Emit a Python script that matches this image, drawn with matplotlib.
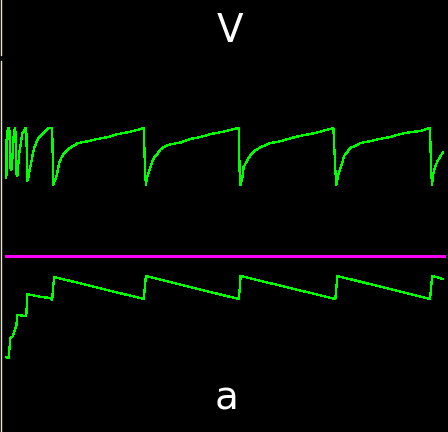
import numpy as np
import matplotlib
matplotlib.use("Agg")
import matplotlib.pyplot as plt

# membrane potential V (mV)
t_v = [5, 5, 6, 7, 8, 9, 10, 11, 12, 13, 14, 15, 16, 17, 18, 19, 20, 21, 22, 23, 24, 25,
       26, 27, 28, 29, 30, 31, 32, 33, 35, 37, 40, 43, 47, 51, 52,
       53, 55, 57, 58, 60, 63, 67, 70, 77, 87, 97, 107, 117, 127, 137, 143, 144, 145,
       146, 148, 150, 153, 157, 160, 165, 170, 180, 190, 200, 210, 220, 230, 238, 239, 240,
       242, 243, 247, 250, 255, 260, 270, 280, 290, 300, 310, 320, 333, 335, 336,
       338, 340, 342, 343, 345, 347, 350, 355, 360, 370, 380, 390, 400, 410, 420, 430, 431, 432,
       433, 435, 437, 440, 443]
v = [10, -53, 25, 30, 30, -35, -40, -23, 10, 26, 30, -45, -50, -31, -11, -2, 10, 21, 23, 27, 30, 30,
     -58, -53, -43, -35, -27, -18, -10, -3, 5, 13, 18, 23, 30, 30, -65,
     -60, -53, -37, -28, -20, -12, -5, -2, 5, 8, 12, 15, 20, 23, 27, 30, -40, -65,
     -52, -43, -32, -20, -12, -5, 0, 3, 6, 12, 15, 20, 23, 27, 30, -42, -65,
     -50, -35, -23, -15, -7, -2, 5, 8, 13, 17, 20, 24, 30, -40, -65,
     -48, -37, -28, -20, -13, -10, -3, 0, 5, 8, 12, 15, 20, 23, 25, 30, -40, -65,
     -48, -35, -27, -18, -10]

# recovery variable a
t_a = [5, 7, 8, 8, 9, 10, 11, 15, 16, 25, 26, 30, 35, 40, 50, 51, 52, 53,
       143, 144, 145, 238, 239, 240, 335, 336, 337, 430, 431, 432, 443]
a = [-40.5, -41, -41, -37, -31, -30.5, -30.5, -25, -19.5, -20, -9, -9.5, -10, -10.5, -11, -12, -5, -0.5,
     -11.5, -5, 0, -11.5, -7, 0, -11.5, -6, 0, -11.5, -6, 0, -1.5]

# input level
t_in = [5, 444]
level = [10, 10]

fig = plt.figure(figsize=(4.48, 4.32), dpi=100, facecolor='black')
spine_col = '#e8e2d4'

ax_top = fig.add_axes([0.003, 1 - 55 / 432, 0.997, 55 / 432])
ax_v = fig.add_axes([0.003, 0, 0.997, 371 / 432])
ax_a = fig.add_axes([0.003, 0, 0.997, 371 / 432], sharex=ax_v)

for ax in (ax_top, ax_v, ax_a):
    ax.set_facecolor('none')
    for s in ('top', 'right', 'bottom'):
        ax.spines[s].set_visible(False)
    ax.spines['left'].set_color(spine_col)
    ax.spines['left'].set_linewidth(1.0)
    ax.set_xticks([])
    ax.set_yticks([])
ax_top.set_facecolor('black')
ax_v.set_facecolor('black')
ax_a.spines['left'].set_visible(False)

ax_v.plot(t_v, v, color='#00ff00', lw=0.9, antialiased=False)
ax_v.set_xlim(0, 448)
ax_v.set_ylim(-476.7, 141.7)

ax_a.plot(t_in, level, color='#ff00ff', lw=0.9, antialiased=False)
ax_a.plot(t_a, a, color='#00ff00', lw=0.9, antialiased=False)
ax_a.set_ylim(-78, 107.5)

fig.text(230 / 448, 1 - 31 / 432, 'V', color='white', fontsize=28, ha='center', va='center')
fig.text(227 / 448, 1 - 399 / 432, 'a', color='white', fontsize=28, ha='center', va='center')

fig.savefig('out.png', dpi=100, facecolor='black')
